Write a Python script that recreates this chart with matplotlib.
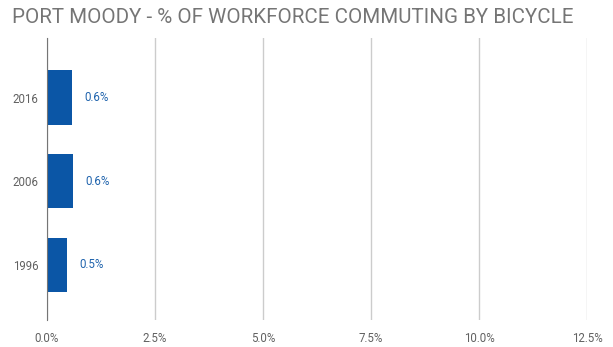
import matplotlib
matplotlib.use('Agg')
import matplotlib.pyplot as plt

# Données
years = ['1996', '2006', '2016']
share = [0.47, 0.61, 0.58]
labels = ['0.5%', '0.6%', '0.6%']
xticks = [0, 2.5, 5, 7.5, 10, 12.5]
xticklabels = ['0.0%', '2.5%', '5.0%', '7.5%', '10.0%', '12.5%']

plt.rcParams['font.family'] = ['Roboto', 'DejaVu Sans']

fig = plt.figure(figsize=(6.13, 3.47), dpi=100)
ax = fig.add_axes([0.0767, 0.078, 0.881, 0.812])

ypos = list(range(len(years)))
ax.barh(ypos, share, height=0.65, color='#0b56a6', zorder=3)
for y, v, lab in zip(ypos, share, labels):
    ax.text(v + 0.28, y, lab, va='center', ha='left', fontsize=8.3, color='#1f63ad')

ax.set_xlim(0, 12.5)
ax.set_ylim(-0.66, 2.71)
ax.set_xticks(xticks)
ax.set_xticklabels(xticklabels)
ax.set_yticks(ypos)
ax.set_yticklabels(years)
ax.tick_params(axis='both', length=0, labelsize=8.3, labelcolor='#616161')
ax.tick_params(axis='x', pad=9)
ax.tick_params(axis='y', pad=6)

ax.grid(axis='x', color='#cccccc', linewidth=1, zorder=0)
for s in ['top', 'right', 'bottom']:
    ax.spines[s].set_visible(False)
ax.spines['left'].set_color('#757575')
ax.spines['left'].set_zorder(4)

fig.text(0.02, 0.95, 'PORT MOODY - % OF WORKFORCE COMMUTING BY BICYCLE',
         fontsize=14.8, color='#757575', va='center', ha='left')

fig.savefig('out.png', dpi=100)
